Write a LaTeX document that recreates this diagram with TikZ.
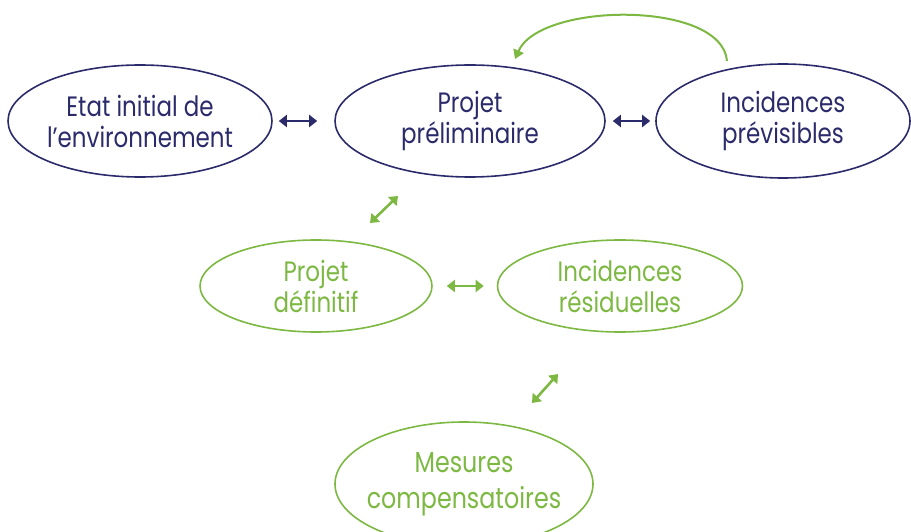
\documentclass[tikz,border=0pt]{standalone}
\usepackage{fontspec}
\setmainfont{Poppins}[FakeStretch=0.82]
\usepackage{tikz}
\usetikzlibrary{arrows.meta, shapes.geometric}
\definecolor{navy}{HTML}{2B2A6B}
\definecolor{leaf}{HTML}{7CB842}

\begin{document}
\begin{tikzpicture}[x=1pt, y=-1pt,
    topbox/.style={ellipse, draw=navy, line width=1.6pt, text=navy, align=center,
        font=\fontsize{28}{31}\selectfont, inner sep=0pt},
    lowbox/.style={ellipse, draw=leaf, line width=1.6pt, text=leaf, align=center,
        font=\fontsize{28}{31}\selectfont, inner sep=0pt},
    navyarr/.style={navy, line width=2.6pt, {Triangle[length=8pt,width=12pt]}-{Triangle[length=8pt,width=12pt]}},
    leafarr/.style={leaf, line width=2.6pt, {Triangle[length=8pt,width=12pt]}-{Triangle[length=8pt,width=12pt]}}]
    \useasboundingbox (0,0) rectangle (911,532);
% top row
\node[topbox, minimum width=264pt, minimum height=112pt] (etat) at (140,121) {Etat initial de\\l'environnement};
\node[topbox, minimum width=270pt, minimum height=112pt] (prelim) at (470,121) {Projet\\préliminaire};
\node[topbox, minimum width=254pt, minimum height=114pt] (previs) at (783,121) {Incidences\\prévisibles};
% green row
\node[lowbox, minimum width=232pt, minimum height=92pt] (definitif) at (316,286) {Projet\\définitif};
\node[lowbox, minimum width=245pt, minimum height=92pt] (residuel) at (620,286) {Incidences\\résiduelles};
\node[lowbox, minimum width=258pt, minimum height=124pt, inner xsep=-12pt,
      font=\fontsize{29}{36}\selectfont] (mesures) at (464,484) {Mesures\\compensatoires};
% arrows
\draw[navyarr, shorten <=6pt, shorten >=17pt] (etat) -- (prelim);
\draw[navyarr, shorten <=7pt, shorten >=5pt] (prelim) -- (previs);
\draw[leafarr, shorten <=14pt, shorten >=13pt] (definitif) -- (residuel);
\coordinate (up1) at (398,196);
\coordinate (dn1) at (370,223);
\draw[leafarr] (dn1) -- (up1);
\coordinate (up2) at (558,374);
\coordinate (dn2) at (532,403);
\draw[leafarr] (dn2) -- (up2);
\coordinate (loopa) at (727,61);
\coordinate (loopb) at (515,59);
\draw[leaf, line width=2pt, -{Triangle[length=9pt,width=11pt]}] (loopa) .. controls (722,0) and (540,2) .. (loopb);
    \end{tikzpicture}
\end{document}
